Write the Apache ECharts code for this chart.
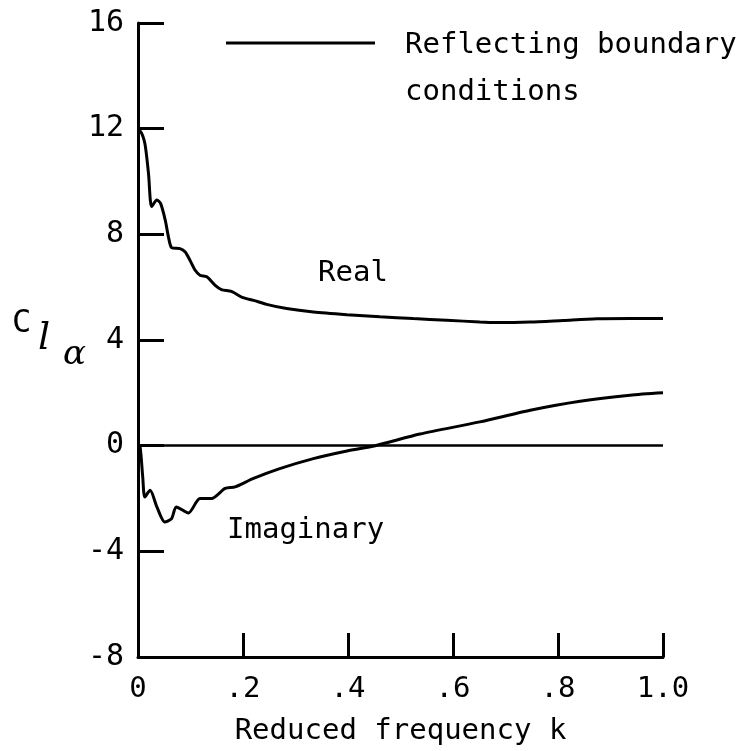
<!DOCTYPE html>
<html lang="en">
<head>
    <meta charset="UTF-8">
    <title>Cl alpha vs reduced frequency</title>
    <script src="https://cdn.jsdelivr.net/npm/echarts@6.0.0/dist/echarts.min.js"></script>
    <style>
        html, body { margin: 0; padding: 0; background: #fff; }
    </style>
</head>
<body>
<div id="demo" style="width: 742px;height: 751px;"></div>
</body>
</html>
<script>
    // values
    var realK = [0, 0.004, 0.013, 0.02, 0.026, 0.036, 0.043, 0.052, 0.058, 0.064, 0.08, 0.09, 0.099, 0.109, 0.118,
        0.131, 0.147, 0.159, 0.178, 0.2, 0.22, 0.245, 0.283, 0.334, 0.398, 0.461, 0.524, 0.588, 0.651, 0.683,
        0.747, 0.81, 0.874, 0.938, 1.0];
    var realVals = [11.9, 11.9, 11.45, 10.3, 9.05, 9.3, 9.17, 8.53, 7.9, 7.5, 7.46, 7.33, 7.02, 6.64, 6.45,
        6.39, 6.07, 5.91, 5.84, 5.6, 5.5, 5.35, 5.19, 5.06, 4.96, 4.88, 4.81, 4.75, 4.68, 4.66,
        4.68, 4.74, 4.8, 4.81, 4.81];

    var imagK = [0, 0.004, 0.009, 0.013, 0.023, 0.036, 0.051, 0.064, 0.073, 0.096, 0.118, 0.14, 0.166, 0.185,
        0.22, 0.27, 0.334, 0.398, 0.452, 0.537, 0.651, 0.747, 0.842, 0.937, 1.0];
    var imagVals = [0, -0.05, -1.18, -1.94, -1.69, -2.32, -2.89, -2.76, -2.32, -2.55, -2.0, -2.0, -1.62, -1.56,
        -1.24, -0.87, -0.49, -0.2, 0, 0.44, 0.9, 1.34, 1.68, 1.91, 2.0];

    var xTickLabels = ['0', '.2', '.4', '.6', '.8', '1.0'];

    function pairs(xs, ys) {
        var out = [];
        for (var i = 0; i < xs.length; i++) {
            out.push([xs[i], ys[i]]);
        }
        return out;
    }

    var font = '"DejaVu Sans Mono", monospace';
    var myChart = echarts.init(document.getElementById('demo'));
    var option = {
        animation: false,
        backgroundColor: '#fff',
        grid: {
            left: 138,
            right: 79,
            top: 23,
            bottom: 94,
            outerBoundsMode: 'none'
        },
        xAxis: {
            type: 'value',
            min: 0,
            max: 1,
            interval: 0.2,
            name: 'Reduced frequency k',
            nameLocation: 'middle',
            nameGap: 60,
            nameTextStyle: { color: '#000', fontFamily: font, fontSize: 29 },
            axisLine: { onZero: false, lineStyle: { color: '#000', width: 3 } },
            axisTick: { inside: true, length: 24, lineStyle: { color: '#000', width: 3 } },
            axisLabel: {
                color: '#000',
                fontFamily: font,
                fontSize: 29,
                margin: 18,
                formatter: function (v) {
                    return xTickLabels[Math.round(v / 0.2)];
                }
            },
            splitLine: { show: false }
        },
        yAxis: {
            type: 'value',
            min: -8,
            max: 16,
            interval: 4,
            axisLine: { show: true, onZero: false, lineStyle: { color: '#000', width: 3 } },
            axisTick: { show: true, inside: true, length: 26, lineStyle: { color: '#000', width: 3 } },
            axisLabel: { color: '#000', fontFamily: font, fontSize: 30, margin: 14 },
            splitLine: { show: false }
        },
        series: [
            {
                name: 'Real',
                type: 'line',
                data: pairs(realK, realVals),
                showSymbol: false,
                smooth: 0.25,
                lineStyle: { color: '#000', width: 3 },
                markLine: {
                    silent: true,
                    symbol: 'none',
                    label: { show: false },
                    lineStyle: { color: '#000', width: 2.5, type: 'solid' },
                    data: [{ yAxis: 0 }]
                }
            },
            {
                name: 'Imaginary',
                type: 'line',
                data: pairs(imagK, imagVals),
                showSymbol: false,
                smooth: 0.25,
                lineStyle: { color: '#000', width: 3 }
            }
        ],
        graphic: [
            {
                type: 'line',
                shape: { x1: 226, y1: 43, x2: 375, y2: 43 },
                style: { stroke: '#000', lineWidth: 3 }
            },
            {
                type: 'text',
                left: 405,
                top: 22,
                style: { text: 'Reflecting boundary\nconditions', font: '29px ' + font, fill: '#000', lineHeight: 47 }
            },
            {
                type: 'text',
                left: 318,
                top: 259,
                style: { text: 'Real', font: '29px ' + font, fill: '#000' }
            },
            {
                type: 'text',
                left: 227,
                top: 516,
                style: { text: 'Imaginary', font: '29px ' + font, fill: '#000' }
            },
            {
                type: 'text',
                left: 12,
                top: 308,
                style: { text: 'C', font: '32px ' + font, fill: '#000' }
            },
            {
                type: 'text',
                left: 38,
                top: 320,
                style: { text: 'l', font: 'italic 38px "DejaVu Serif", serif', fill: '#000' }
            },
            {
                type: 'text',
                left: 63,
                top: 338,
                style: { text: 'α', font: 'italic 34px "DejaVu Serif", serif', fill: '#000' }
            }
        ]
    };
    myChart.setOption(option);
    window.onresize = function () {
        myChart.resize()
    }
</script>
